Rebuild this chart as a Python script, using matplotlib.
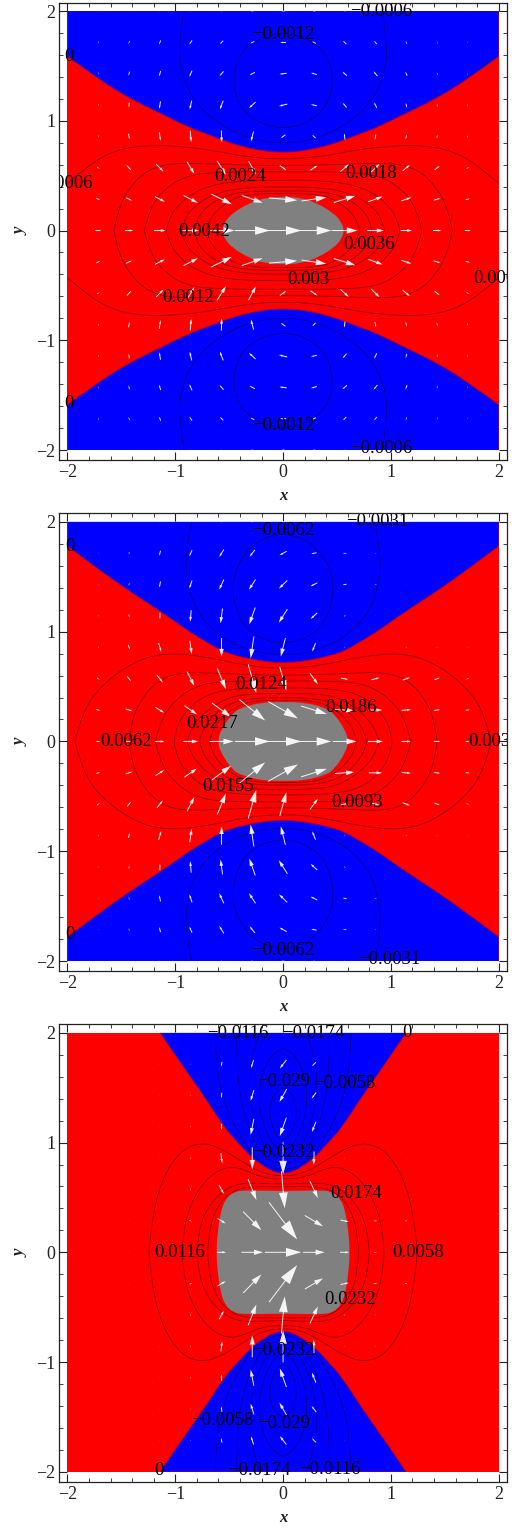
import numpy as np
import matplotlib
matplotlib.use("Agg")
import matplotlib.pyplot as plt
from matplotlib.path import Path
from matplotlib.patches import PathPatch

plt.rcParams['font.family'] = ['Liberation Serif', 'DejaVu Serif']

# arrow grid, only the upper half is kept (lower half is a mirror in y)
grid_x = [-1.714, -1.429, -1.143, -0.857, -0.571, -0.286, 0, 0.286, 0.571, 0.857, 1.143, 1.429, 1.714]
grid_y = [0, 0.286, 0.571, 0.857, 1.143, 1.429, 1.714, 2]

# panel 1
u1 = [[18, 25, 35, 50, 78, 106, 110, 106, 78, 50, 35, 25, 18],
      [12, 18, 30, 43, 62, 63, 85, 75, 65, 43, 30, 20, 12],
      [8, 14, 22, 22, 27, 22, 20, 22, 25, 25, 22, 15, 8],
      [1, 3, 4, 3, 1, -8, -14, -10, -2, 3, 3, 2, 2],
      [0, -1, -4, -6, -10, -20, -25, -18, -12, -8, -3, -1, 0],
      [0, -2, -5, -8, -12, -16, -22, -18, -14, -12, -5, -1, 0],
      [0, -3, -5, -8, -10, -12, -18, -12, -10, -8, -4, -1, 0],
      [0, -1, -2, -3, -5, -8, -10, -8, -5, -3, -2, -1, 0]]
v1 = [[0, 0, 0, 0, 0, 0, 0, 0, 0, 0, 0, 0, 0],
      [-6, -8, -15, -22, -30, -22, -7, 11, 20, 15, 10, 6, 3],
      [-5, -15, -22, -36, -42, -40, -14, 14, 22, 24, 18, 12, 5],
      [-6, -16, -26, -34, -36, -30, -10, 10, 18, 16, 12, 10, 6],
      [-6, -14, -22, -26, -26, -18, -6, 4, 14, 16, 12, 8, 6],
      [-6, -12, -16, -18, -14, -8, -3, 5, 12, 14, 12, 8, 5],
      [-6, -9, -12, -12, -10, -6, 0, 6, 10, 10, 8, 6, 4],
      [-2, -2, -2, -2, -1, -1, 0, 1, 1, 2, 2, 2, 2]]

# panel 2
u2 = [[12, 20, 28, 45, 72, 105, 110, 105, 72, 45, 28, 20, 12],
      [12, 20, 26, 38, 58, 78, 90, 78, 58, 40, 28, 18, 12],
      [8, 12, 18, 22, 26, 24, 20, 24, 22, 24, 22, 16, 8],
      [2, 4, 8, 6, 0, -10, -14, -10, -2, 1, 2, 2, 2],
      [0, 1, 0, -3, -6, -18, -26, -20, -5, -2, -1, 0, 0],
      [0, -1, -4, -8, -14, -20, -25, -20, -12, -6, -2, 0, 0],
      [0, -1, -4, -8, -14, -16, -22, -16, -10, -4, -2, 0, 0],
      [0, -1, -2, -3, -5, -7, -10, -6, -4, -2, -1, 0, 0]]
v2 = [[0, 0, 0, 0, 0, 0, 0, 0, 0, 0, 0, 0, 0],
      [-3, -6, -16, -26, -42, -62, -50, -24, -4, 0, 2, 2, 1],
      [-6, -14, -22, -42, -62, -85, -70, -32, -4, 6, 8, 6, 3],
      [-5, -14, -26, -40, -55, -65, -55, -25, -4, 2, 4, 3, 2],
      [-4, -10, -20, -34, -44, -50, -40, -18, -5, 0, 2, 1, 0],
      [-3, -8, -18, -24, -30, -30, -24, -10, -2, 0, 0, 0, 0],
      [-3, -8, -15, -18, -22, -20, -12, -3, 1, 1, 0, 0, 0],
      [-1, -2, -3, -3, -3, -2, -1, 0, 0, 0, 0, 0, 0]]

# panel 3
u3 = [[1, 2, 4, 8, 28, 65, 110, 65, 28, 8, 4, 2, 1],
      [1, 2, 3, 8, 25, 55, 85, 55, 25, 10, 8, 2, 1],
      [0, 1, 2, 3, 14, 25, 10, 24, 5, 5, 2, 1, 0],
      [0, 0, 1, 2, 4, 0, 0, -1, 2, 2, 1, 0, 0],
      [0, 0, 0, 0, 0, -10, -20, -12, -1, 0, 0, 0, 0],
      [0, 0, 0, 0, -2, -10, -22, -14, -1, 0, 0, 0, 0],
      [0, 0, 0, 0, -3, -8, -20, -12, -1, 0, 0, 0, 0],
      [0, 0, 0, 0, 0, 0, -3, 0, 0, 0, 0, 0, 0]]
v3 = [[0, 0, 0, 0, 0, 0, 0, 0, 0, 0, 0, 0, 0],
      [0, 0, 0, -3, -15, -55, -110, -32, -5, 0, 0, 0, 0],
      [0, 0, -2, -6, -25, -62, -110, -50, -3, 0, 0, 0, 0],
      [0, 0, -2, -5, -30, -65, -95, -40, -2, 2, 2, 0, 0],
      [0, 0, -2, -5, -18, -48, -55, -30, -2, 0, 0, 0, 0],
      [0, 0, -2, -4, -16, -32, -38, -18, -2, 0, 0, 0, 0],
      [0, 0, -2, -4, -14, -24, -25, -12, -2, 0, 0, 0, 0],
      [0, 0, 0, 0, 0, 0, 0, 0, 0, 0, 0, 0, 0]]

# zero level, upper curve for x >= 0
zero1_x = [0, 0.14, 0.286, 0.43, 0.571, 0.71, 0.857, 1.143, 1.429, 1.714, 2]
zero1_y = [0.714, 0.72, 0.745, 0.78, 0.827, 0.88, 0.933, 1.07, 1.207, 1.38, 1.587]
zero2_x = [0, 0.14, 0.286, 0.43, 0.571, 0.71, 0.857, 1.0, 1.143, 1.429, 1.714, 2]
zero2_y = [0.717, 0.725, 0.748, 0.78, 0.824, 0.905, 0.991, 1.09, 1.188, 1.371, 1.568, 1.78]
zero3_x = [0, 0.09, 0.18, 0.288, 0.42, 0.55, 0.736, 0.953, 1.14]
zero3_y = [0.717, 0.735, 0.784, 0.86, 1.0, 1.143, 1.429, 1.726, 2]

# grey core, one quadrant
core1_x = [0.568, 0.54, 0.47, 0.315, 0.16, 0]
core1_y = [0, 0.08, 0.158, 0.25, 0.3, 0.308]
core2_x = [0.605, 0.58, 0.47, 0.38, 0.2, 0]
core2_y = [0, 0.1, 0.26, 0.31, 0.355, 0.36]
core3_x = [0.62, 0.605, 0.58, 0.54, 0.46, 0.36, 0.1, 0]
core3_y = [0, 0.2, 0.36, 0.48, 0.55, 0.565, 0.56, 0.56]

# contour lines, one quadrant each
lines1 = [([0, 0.3, 0.6, 0.9, 1.29, 1.6, 1.85, 2], [0.65, 0.665, 0.72, 0.765, 0.78, 0.72, 0.56, 0.43]),
          ([0, 0.5, 1.0, 1.25, 1.42, 1.53, 1.57], [0.59, 0.6, 0.62, 0.56, 0.4, 0.2, 0]),
          ([0, 0.6, 0.9, 1.1, 1.24, 1.287], [0.535, 0.535, 0.5, 0.38, 0.2, 0]),
          ([0, 0.5, 0.8, 0.98, 1.06, 1.086], [0.46, 0.45, 0.37, 0.23, 0.1, 0]),
          ([0, 0.4, 0.65, 0.83, 0.92, 0.938], [0.4, 0.39, 0.33, 0.22, 0.1, 0]),
          ([0, 0.4, 0.6, 0.74, 0.81, 0.82], [0.365, 0.355, 0.29, 0.19, 0.08, 0]),
          ([0, 0.35, 0.5, 0.63, 0.69, 0.71], [0.34, 0.33, 0.27, 0.17, 0.08, 0]),
          ([0, 0.23, 0.4, 0.47, 0.42, 0.28, 0.1, 0], [0.924, 0.98, 1.12, 1.35, 1.58, 1.72, 1.79, 1.8]),
          ([0, 0.3, 0.6, 0.85, 0.96, 0.96, 0.92], [0.79, 0.83, 0.97, 1.2, 1.5, 1.75, 2])]
lines2 = [([0, 0.35, 0.7, 1.1, 1.4, 1.7, 1.87, 1.93], [0.66, 0.69, 0.77, 0.81, 0.72, 0.5, 0.25, 0]),
          ([0, 0.5, 0.98, 1.2, 1.35, 1.41, 1.43], [0.6, 0.615, 0.635, 0.53, 0.33, 0.15, 0]),
          ([0, 0.6, 0.85, 1.05, 1.15, 1.185], [0.55, 0.55, 0.49, 0.33, 0.15, 0]),
          ([0, 0.5, 0.75, 0.92, 1.0, 1.01], [0.49, 0.48, 0.41, 0.26, 0.1, 0]),
          ([0, 0.4, 0.6, 0.78, 0.87, 0.89], [0.44, 0.43, 0.36, 0.22, 0.08, 0]),
          ([0, 0.35, 0.55, 0.68, 0.76, 0.775], [0.4, 0.39, 0.32, 0.2, 0.08, 0]),
          ([0, 0.3, 0.47, 0.6, 0.67, 0.68], [0.375, 0.37, 0.3, 0.19, 0.07, 0]),
          ([0, 0.23, 0.4, 0.48, 0.42, 0.25, 0.08, 0], [0.884, 0.94, 1.09, 1.38, 1.63, 1.82, 1.88, 1.89]),
          ([0, 0.3, 0.6, 0.82, 0.9, 0.9, 0.85], [0.784, 0.82, 0.96, 1.2, 1.5, 1.75, 2])]
lines3 = [([0, 0.2, 0.4, 0.6, 0.77, 0.95, 1.12, 1.22, 1.245], [0.69, 0.72, 0.84, 0.96, 1.0, 0.93, 0.68, 0.3, 0]),
          ([0, 0.2, 0.35, 0.52, 0.72, 0.87, 0.93, 0.937], [0.665, 0.68, 0.75, 0.79, 0.67, 0.42, 0.15, 0]),
          ([0, 0.2, 0.43, 0.6, 0.73, 0.79, 0.8], [0.62, 0.63, 0.63, 0.53, 0.36, 0.15, 0]),
          ([0, 0.2, 0.4, 0.55, 0.65, 0.69, 0.7], [0.595, 0.6, 0.59, 0.5, 0.34, 0.15, 0]),
          ([0, 0.15, 0.3, 0.45, 0.56, 0.62, 0.63], [0.75, 0.78, 0.9, 1.15, 1.4, 1.7, 2]),
          ([0, 0.15, 0.27, 0.36, 0.41, 0.43, 0.43], [0.8, 0.84, 1.0, 1.25, 1.5, 1.75, 2]),
          ([0, 0.12, 0.22, 0.29, 0.32, 0.3, 0.22], [0.86, 0.9, 1.05, 1.3, 1.5, 1.75, 2]),
          ([0, 0.1, 0.2, 0.225, 0.2, 0.1, 0], [0.92, 0.98, 1.2, 1.4, 1.62, 1.82, 1.86]),
          ([0, 0.08, 0.13, 0.11, 0.05, 0], [1.01, 1.08, 1.25, 1.4, 1.48, 1.5])]

# contour labels
text1 = ["\u22120.0006", "\u22120.0012", "0", "0.0006", "0.0024", "0.0018", "0.0042", "0.0036",
         "0.003", "0.0012", "0.0006", "0", "\u22120.0012", "\u22120.0006"]
text1_x = [0.91, 0, -1.99, -2, -0.396, 0.817, -0.73, 0.80, 0.23, -0.882, 2, -1.99, 0, 0.91]
text1_y = [2.0, 1.784, 1.587, 0.43, 0.492, 0.517, -0.01, -0.13, -0.444, -0.61, -0.435, -1.574, -1.78, -1.99]
text2 = ["\u22120.0031", "\u22120.0062", "0", "0.0124", "0.0186", "0.0217", "0.0062", "0.0031",
         "0.0155", "0.0093", "0", "\u22120.0062", "\u22120.0031"]
text2_x = [0.873, 0, -1.98, -0.2, 0.63, -0.66, -1.454, 1.955, -0.508, 0.69, -1.98, 0, 0.98]
text2_y = [2.0, 1.918, 1.775, 0.52, 0.307, 0.164, 0, 0, -0.413, -0.558, -1.76, -1.9, -1.99]
text3 = ["\u22120.0116", "\u22120.0174", "0", "\u22120.029", "\u22120.0058", "\u22120.0232", "0.0174",
         "0.0116", "0.0058", "0.0232", "\u22120.0232", "\u22120.0058", "\u22120.029", "0",
         "\u22120.0174", "\u22120.0116"]
text3_x = [-0.42, 0.28, 1.15, 0, 0.57, 0, 0.68, -0.96, 1.25, 0.625, 0, -0.56, 0, -1.154, -0.226, 0.43]
text3_y = [1.99, 1.99, 2, 1.56, 1.54, 0.906, 0.54, 0, 0, -0.43, -0.897, -1.53, -1.556, -1.99, -1.99, -1.98]

red = '#ff0000'
blue = '#0000ff'
grey = '#808080'
arrow_scale = 1 / 325.0


def smooth_path(x, y, corners=()):
    # quadratic pieces through the midpoints, keeps curves from looking angular
    pts = np.column_stack([x, y])
    verts = [pts[0]]
    codes = [Path.MOVETO]
    for i in range(1, len(pts) - 1):
        end = pts[i + 1] if i == len(pts) - 2 else (pts[i] + pts[i + 1]) / 2
        verts += [pts[i], end]
        codes += [Path.CURVE3, Path.CURVE3]
    if len(corners) > 0:
        for c in corners:
            verts.append(c)
            codes.append(Path.LINETO)
    return Path(verts, codes)


def ring_path(x, y):
    # same idea, but a closed loop with no start corner
    pts = np.column_stack([x, y])
    start = (pts[-1] + pts[0]) / 2
    verts = [start]
    codes = [Path.MOVETO]
    for i in range(len(pts)):
        verts += [pts[i], (pts[i] + pts[(i + 1) % len(pts)]) / 2]
        codes += [Path.CURVE3, Path.CURVE3]
    return Path(verts, codes)


def both_sides(x, y):
    x = np.array(x, dtype=float)
    y = np.array(y, dtype=float)
    return np.r_[-x[::-1], x[1:]], np.r_[y[::-1], y[1:]]


def draw_panel(ax, zero_x, zero_y, core_x, core_y, lines, u, v, text, text_x, text_y):
    ax.fill([-2, 2, 2, -2], [-2, -2, 2, 2], color=red, lw=0, zorder=1)

    x, y = both_sides(zero_x, zero_y)
    for s in [1, -1]:
        corners = []
        if x[-1] >= 2:
            corners = [(2, 2 * s), (-2, 2 * s)]
        ax.add_patch(PathPatch(smooth_path(x, s * y, corners), fc=blue, lw=0, zorder=2))
        ax.add_patch(PathPatch(smooth_path(x, s * y), fc='none', ec='#a00030', lw=0.6, zorder=2))

    cx = np.array(core_x, dtype=float)
    cy = np.array(core_y, dtype=float)
    ring_x = np.r_[cx, -cx[::-1][1:], -cx[1:], cx[::-1][1:-1]]
    ring_y = np.r_[cy, cy[::-1][1:], -cy[1:], -cy[::-1][1:-1]]
    ax.add_patch(PathPatch(ring_path(ring_x, ring_y), fc=grey, lw=0, zorder=3))

    for lx, ly in lines:
        x, y = both_sides(lx, ly)
        for s in [1, -1]:
            ax.add_patch(PathPatch(smooth_path(x, s * y), fc='none', ec='black', lw=0.6, alpha=0.42, zorder=4))

    for j, gy in enumerate(grid_y):
        for i, gx in enumerate(grid_x):
            dx = u[j][i] * arrow_scale
            dy = v[j][i] * arrow_scale
            length = np.hypot(dx, dy)
            if length == 0:
                continue
            for s in ([1] if gy == 0 else [1, -1]):
                ax.arrow(gx - dx / 2, s * (gy - dy / 2), dx, s * dy, width=min(0.009, 0.22 * length),
                         head_width=0.24 * length, head_length=0.42 * length, length_includes_head=True,
                         color='white', lw=0, alpha=0.92, zorder=5)

    for t, tx, ty in zip(text, text_x, text_y):
        ax.text(tx, ty, t, fontsize=13.5, color='black', ha='center', va='center', clip_on=True, zorder=6)

    ax.set_xlim(-2.076, 2.08)
    ax.set_ylim(-2.091, 2.078)
    ax.set_xticks([-2, -1, 0, 1, 2])
    ax.set_yticks([-2, -1, 0, 1, 2])
    ax.set_xticklabels(['\u22122', '\u22121', '0', '1', '2'])
    ax.set_yticklabels(['\u22122', '\u22121', '0', '1', '2'])
    ax.set_xticks(np.arange(-2, 2.01, 0.2), minor=True)
    ax.set_yticks(np.arange(-2, 2.01, 0.2), minor=True)
    ax.tick_params(which='major', direction='in', top=True, right=True, length=6, width=0.8,
                   labelsize=13, pad=3, color='#222222', labelcolor='#222222')
    ax.tick_params(which='minor', direction='in', top=True, right=True, length=3, width=0.6, color='#222222')
    for sp in ax.spines.values():
        sp.set_linewidth(0.9)
        sp.set_color('#222222')
        sp.set_zorder(7)
    ax.set_xlabel('x', fontsize=12, style='italic', weight='bold', color='#222222', va='center')
    ax.set_ylabel('y', fontsize=12, style='italic', weight='bold', color='#222222', va='center')
    ax.xaxis.set_label_coords(0.5, -0.079)
    ax.yaxis.set_label_coords(-0.086, 0.5)


W = 532.0
H = 1533.0
fig = plt.figure(figsize=(W / 100, H / 100), dpi=100)

ax1 = fig.add_axes([59.3 / W, 1 - 460 / H, 448 / W, 457.5 / H])
ax2 = fig.add_axes([59.3 / W, 1 - 971 / H, 448 / W, 457.7 / H])
ax3 = fig.add_axes([59.3 / W, 1 - 1481.7 / H, 448 / W, 457.4 / H])

draw_panel(ax1, zero1_x, zero1_y, core1_x, core1_y, lines1, u1, v1, text1, text1_x, text1_y)
draw_panel(ax2, zero2_x, zero2_y, core2_x, core2_y, lines2, u2, v2, text2, text2_x, text2_y)
draw_panel(ax3, zero3_x, zero3_y, core3_x, core3_y, lines3, u3, v3, text3, text3_x, text3_y)

plt.savefig("out.png", dpi=100)
plt.close()
